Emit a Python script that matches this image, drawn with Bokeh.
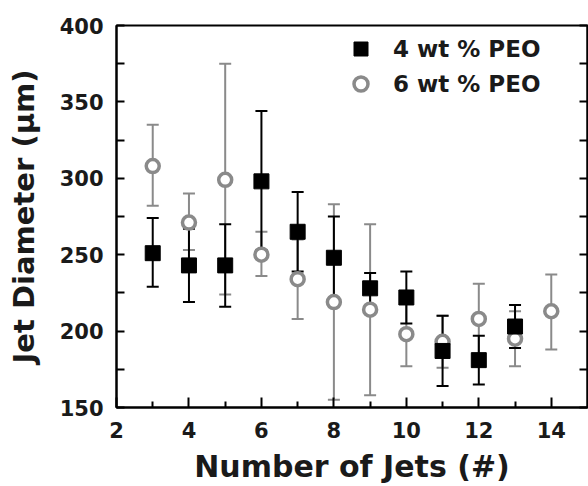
from bokeh.plotting import figure
from bokeh.models import (ColumnDataSource, Whisker, TeeHead, LinearAxis, FixedTicker,
                          Range1d, PrintfTickFormatter, Legend, LegendItem)
from bokeh.embed import file_html
from bokeh.resources import INLINE

# Data
x4 = [3, 4, 5, 6, 7, 8, 9, 10, 11, 12, 13]
y4 = [251, 243, 243, 298, 265, 248, 228, 222, 187, 181, 203]
up4 = [274, 267, 270, 344, 291, 275, 238, 239, 210, 197, 217]
lo4 = [229, 219, 216, 253, 239, 221, 217, 205, 164, 165, 189]

x6 = [3, 4, 5, 6, 7, 8, 9, 10, 11, 12, 13, 14]
y6 = [308, 271, 299, 250, 234, 219, 214, 198, 193, 208, 195, 213]
up6 = [335, 290, 375, 265, 260, 283, 270, 219, 210, 231, 213, 237]
lo6 = [282, 253, 224, 236, 208, 155, 158, 177, 176, 185, 177, 188]

x_ticks = [2, 4, 6, 8, 10, 12, 14]
x_minor = [3, 5, 7, 9, 11, 13]
y_ticks = [150, 200, 250, 300, 350, 400]
y_minor = [175, 225, 275, 325, 375]

FONT = "DejaVu Sans"
GRAY = "#8a8a8a"
TXT = "#1a1a1a"

p = figure(width=588, height=486, output_backend="svg", toolbar_location=None,
           x_range=Range1d(2, 15), y_range=Range1d(150, 400),
           min_border_left=116, min_border_top=25, min_border_bottom=77, min_border_right=1)
p.xgrid.visible = False
p.ygrid.visible = False
p.outline_line_color = "black"
p.outline_line_width = 2
p.background_fill_color = "white"
p.border_fill_color = "white"

s4 = ColumnDataSource(dict(x=x4, y=y4, up=up4, lo=lo4))
s6 = ColumnDataSource(dict(x=x6, y=y6, up=up6, lo=lo6))

w6 = Whisker(source=s6, base="x", upper="up", lower="lo", line_color=GRAY, line_width=2,
             upper_head=TeeHead(size=12, line_color=GRAY, line_width=2),
             lower_head=TeeHead(size=12, line_color=GRAY, line_width=2))
p.add_layout(w6)
r6 = p.scatter("x", "y", source=s6, marker="circle", size=13, fill_color="white",
               line_color=GRAY, line_width=3.5)

w4 = Whisker(source=s4, base="x", upper="up", lower="lo", line_color="black", line_width=2,
             upper_head=TeeHead(size=12, line_color="black", line_width=2),
             lower_head=TeeHead(size=12, line_color="black", line_width=2))
p.add_layout(w4)
r4 = p.scatter("x", "y", source=s4, marker="square", size=15, fill_color="black",
               line_color="black")

leg = Legend(items=[LegendItem(label="4 wt % PEO", renderers=[r4]),
                    LegendItem(label="6 wt % PEO", renderers=[r6])],
             location=(227, 306))
leg.border_line_alpha = 0
leg.background_fill_alpha = 0
leg.label_text_font = FONT
leg.label_text_font_style = "bold"
leg.label_text_font_size = "23px"
leg.label_text_color = TXT
leg.padding = 0
leg.margin = 0
leg.spacing = 0
leg.glyph_width = 35
leg.glyph_height = 35
leg.label_height = 35
leg.label_standoff = 15
p.add_layout(leg, "center")

# Axes
xa = p.xaxis[0]
xa.ticker = FixedTicker(ticks=x_ticks, minor_ticks=x_minor)
ya = p.yaxis[0]
ya.ticker = FixedTicker(ticks=y_ticks, minor_ticks=y_minor)

for ax in (xa, ya):
    ax.axis_line_width = 2
    ax.major_tick_line_width = 2
    ax.minor_tick_line_width = 2
    ax.major_tick_out = 0
    ax.minor_tick_out = 0
    ax.major_label_text_font = FONT
    ax.major_label_text_font_style = "bold"
    ax.major_label_text_font_size = "21px"
    ax.major_label_text_color = TXT
    ax.axis_label_text_font = FONT
    ax.axis_label_text_font_style = "bold"
    ax.axis_label_text_font_size = "29px"
    ax.axis_label_text_color = TXT

xa.major_tick_in = 10
xa.minor_tick_in = 6
xa.major_label_standoff = 14
xa.axis_label = "Number of Jets (#)"
xa.axis_label_standoff = 8
xa.axis_label_text_font_size = "30px"

ya.major_tick_in = 8
ya.minor_tick_in = 8
ya.major_label_standoff = 13
ya.axis_label = "Jet Diameter (\u03bcm)"
ya.axis_label_standoff = 16

ra = LinearAxis(ticker=FixedTicker(ticks=y_ticks, minor_ticks=y_minor),
                formatter=PrintfTickFormatter(format=""))
ra.major_tick_in = 8
ra.minor_tick_in = 8
ra.major_tick_out = 0
ra.minor_tick_out = 0
ra.major_tick_line_width = 2
ra.minor_tick_line_width = 2
ra.axis_line_width = 2
ra.major_label_standoff = 0
p.add_layout(ra, "right")

open("out.html", "w").write(file_html(p, INLINE))
